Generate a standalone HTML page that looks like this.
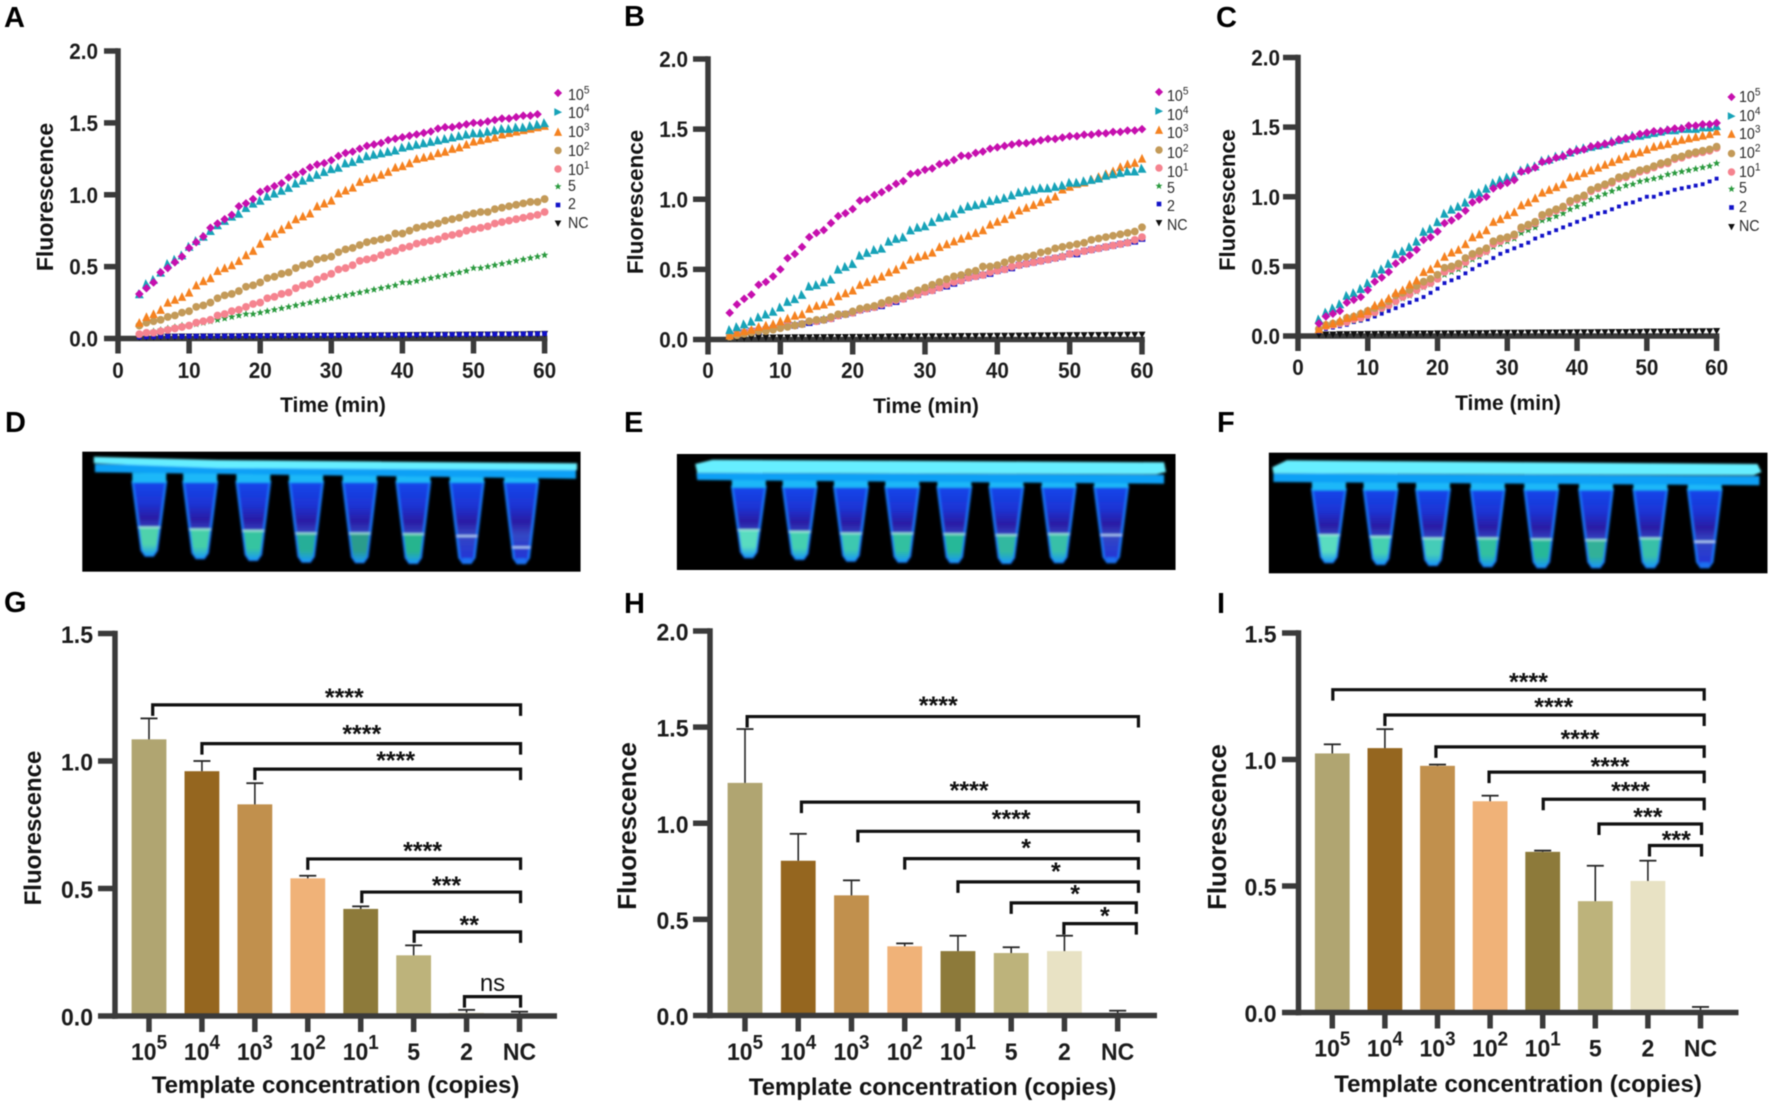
<!DOCTYPE html>
<html lang="en">
<head>
<meta charset="utf-8">
<title>Fluorescence detection panels A–I</title>
<style>
html,body{margin:0;padding:0;background:#fff;width:1772px;height:1106px;overflow:hidden}
svg{display:block;font-family:"Liberation Sans",Arial,sans-serif;filter:blur(.45px)}
.letter{font-size:29px;font-weight:700;fill:#000}
.title{font-weight:700;fill:#141414;text-anchor:middle}
</style>
</head>
<body>
<svg id="root" xmlns="http://www.w3.org/2000/svg" width="1772" height="1106" viewBox="0 0 1772 1106">
<defs>
<linearGradient id="tubeBody" x1="0" y1="0" x2="0" y2="1">
<stop offset="0" stop-color="#1448ec"/><stop offset=".3" stop-color="#1c34d4"/><stop offset=".5" stop-color="#2a1ca4"/><stop offset=".66" stop-color="#3448c4"/><stop offset="1" stop-color="#2030d8"/>
</linearGradient>
<filter id="soft" x="-5%" y="-5%" width="110%" height="110%"><feGaussianBlur stdDeviation="1.05"/></filter>
</defs>
<rect width="1772" height="1106" fill="#fff"/>

<g>
<text class="letter" x="4" y="27">A</text>
<text class="letter" x="624" y="26">B</text>
<text class="letter" x="1216" y="27">C</text>
<text class="letter" x="5" y="432">D</text>
<text class="letter" x="624" y="432">E</text>
<text class="letter" x="1217" y="432">F</text>
<text class="letter" x="4" y="612">G</text>
<text class="letter" x="624" y="613">H</text>
<text class="letter" x="1217" y="613">I</text>
</g>

<g>
<text class="title" font-size="23" transform="translate(53,197) rotate(-90)">Fluorescence</text>
<text class="title" font-size="22.4" transform="translate(643,202) rotate(-90)">Fluorescence</text>
<text class="title" font-size="22" transform="translate(1235,200) rotate(-90)">Fluorescence</text>
<text class="title" font-size="21" x="333" y="412">Time (min)</text>
<text class="title" font-size="21" x="926" y="413">Time (min)</text>
<text class="title" font-size="21" x="1508" y="410">Time (min)</text>
<text class="title" font-size="24" transform="translate(41,828) rotate(-90)">Fluorescence</text>
<text class="title" font-size="26" transform="translate(636,826) rotate(-90)">Fluorescence</text>
<text class="title" font-size="25.7" transform="translate(1226,827) rotate(-90)">Fluorescence</text>
<text class="title" font-size="24" x="335.5" y="1093">Template concentration (copies)</text>
<text class="title" font-size="24" x="932.5" y="1095">Template concentration (copies)</text>
<text class="title" font-size="24" x="1518" y="1092">Template concentration (copies)</text>
</g>
</svg>

<script>
/* ---------- shared labels ---------- */
const timeMinutes = [3,4,5,6,7,8,9,10,11,12,13,14,15,16,17,18,19,20,21,22,23,24,25,26,27,28,29,30,31,32,33,34,35,36,37,38,39,40,41,42,43,44,45,46,47,48,49,50,51,52,53,54,55,56,57,58,59,60];
const timeTicks = [0,10,20,30,40,50,60];
const curveValueTicks = ['0.0','0.5','1.0','1.5','2.0'];
const categoryBase = ['10','10','10','10','10','5','2','NC'];
const categoryExponent = ['5','4','3','2','1','','',''];

/* ---------- panel A curves ---------- */
const panelA_1e5 = [.31,.35,.39,.46,.49,.53,.57,.63, .67,.71,.77,.80,.83,.86,.92,.94,.97,1.02, 1.04,1.06,1.08,1.12,1.14,1.16,1.19,1.21,1.22,1.24, 1.27,1.29,1.30,1.32,1.34,1.35,1.36,1.38,1.39,1.40, 1.41,1.42,1.43,1.44,1.46,1.47,1.47,1.48,1.49,1.50, 1.50,1.51,1.52,1.53,1.53,1.54,1.55,1.55,1.56,null];
const panelA_1e4 = [.31,.38,.41,.46,.52,.55,.58,.64, .68,.71,.75,.79,.82,.85,.87,.91,.94,.96, .99,1.01,1.03,1.05,1.08,1.10,1.12,1.14,1.16,1.18, 1.19,1.22,1.23,1.25,1.27,1.28,1.29,1.30,1.31,1.33, 1.34,1.35,1.36,1.37,1.38,1.39,1.40,1.41,1.42,1.43, 1.43,1.44,1.45,1.46,1.46,1.47,1.47,1.48,1.49,1.50];
const panelA_1e3 = [.11,.15,.17,.20,.25,.27,.29,.32, .37,.40,.42,.47,.49,.51,.54,.58,.61,.66, .71,.73,.76,.79,.83,.85,.87,.92,.94,.96, 1.01,1.03,1.05,1.09,1.11,1.12,1.14,1.16,1.19,1.20, 1.22,1.25,1.26,1.27,1.29,1.30,1.32,1.33,1.35,1.37, 1.38,1.39,1.40,1.42,1.43,1.44,1.45,1.46,1.47,1.48];
const panelA_1e2 = [.09,.11,.12,.13,.15,.16,.18,.19, .22,.23,.25,.28,.30,.31,.33,.36,.37,.39, .42,.43,.45,.46,.49,.51,.52,.55,.56,.57, .60,.62,.63,.65,.67,.68,.69,.70,.73,.73, .75,.77,.78,.79,.80,.82,.83,.84,.86,.87, .88,.88,.90,.91,.92,.93,.94,.95,.95,.97];
const panelA_1e1 = [.03,.04,.04,.05,.06,.07,.08,.09, .11,.12,.13,.16,.17,.19,.20,.22,.24,.25, .28,.29,.31,.32,.35,.37,.38,.41,.43,.45, .48,.49,.51,.54,.55,.56,.58,.60,.61,.63, .64,.66,.67,.68,.69,.71,.72,.73,.75,.76, .77,.78,.80,.81,.82,.83,.84,.85,.86,.88];
const panelA_5 = [.03,.04,.05,.06,.07,.08,.09,.09, .10,.11,.12,.13,.14,.15,.16,.17,.17,.18, .19,.20,.21,.22,.23,.24,.25,.26,.27,.28, .29,.30,.31,.32,.33,.34,.35,.36,.37,.39, .39,.40,.41,.42,.43,.44,.45,.46,.47,.49, .49,.50,.51,.52,.53,.54,.55,.56,.57,.58];
const panelA_2 = [.01,.012,.012,.015,.015,.015,.015,.016, .016,.016,.017,.017,.017,.018,.018,.018,.018,.019, .019,.019,.02,.02,.02,.02,.021,.021,.021,.021, .022,.022,.022,.023,.023,.023,.024,.024,.024,.025, .025,.026,.026,.026,.027,.027,.028,.028,.028,.029, .029,.03,.03,.03,.031,.031,.032,.032,.033,.034];
const panelA_NC = [.008,.01,.01,.012,.012,.012,.013,.013, .013,.014,.014,.014,.015,.015,.015,.016,.016,.016, .016,.017,.017,.017,.018,.018,.018,.019,.019,.019, .02,.02,.02,.021,.021,.021,.022,.022,.022,.023, .023,.023,.024,.024,.025,.025,.025,.026,.026,.026, .027,.027,.028,.028,.028,.029,.029,.03,.03,.031];

/* ---------- panel B curves ---------- */
const panelB_1e5 = [.19,.25,.29,.32,.39,.41,.45,.50, .58,.61,.66,.73,.76,.78,.83,.88,.90,.93, .99,1.00,1.03,1.05,1.08,1.11,1.13,1.18,1.19,1.21, 1.22,1.25,1.26,1.28,1.31,1.31,1.33,1.34,1.36,1.37, 1.38,1.39,1.40,1.40,1.41,1.42,1.43,1.43,1.44,1.45, 1.45,1.46,1.46,1.47,1.47,1.48,1.48,1.49,1.49,1.50];
const panelB_1e4 = [.07,.09,.11,.13,.16,.18,.20,.23, .27,.29,.32,.38,.39,.41,.43,.50,.52,.54, .60,.62,.64,.65,.70,.72,.73,.78,.80,.81, .84,.87,.88,.90,.93,.95,.96,.97,.99,1.00, 1.01,1.03,1.05,1.06,1.07,1.08,1.08,1.09,1.10,1.12, 1.12,1.13,1.14,1.15,1.17,1.18,1.19,1.20,1.20,1.22];
const panelB_1e3 = [.03,.05,.06,.07,.09,.10,.11,.13, .15,.17,.18,.22,.24,.25,.27,.31,.33,.35, .39,.41,.43,.45,.48,.50,.53,.57,.59,.60, .62,.66,.68,.70,.72,.74,.76,.78,.82,.84, .86,.89,.92,.94,.96,.98,1.00,1.02,1.07,1.09, 1.11,1.12,1.14,1.16,1.18,1.20,1.23,1.25,1.26,1.29];
const panelB_1e2 = [.02,.03,.04,.05,.06,.06,.07,.08, .09,.10,.11,.13,.14,.14,.16,.18,.18,.20, .22,.23,.24,.26,.28,.29,.31,.33,.35,.37, .39,.41,.43,.45,.46,.48,.49,.52,.52,.53, .55,.57,.58,.59,.60,.62,.63,.65,.66,.67, .68,.69,.71,.72,.73,.74,.75,.76,.77,.80];
const panelB_1e1 = [.03,.04,.05,.06,.07,.07,.08,.09, .10,.10,.11,.13,.13,.14,.15,.17,.18,.19, .21,.22,.23,.25,.26,.28,.29,.31,.32,.34, .35,.37,.39,.41,.42,.44,.45,.46,.48,.49, .50,.52,.53,.54,.55,.56,.57,.58,.59,.61, .62,.63,.64,.65,.66,.67,.68,.69,.71,.73];
const panelB_5 = [.03,.04,.05,.06,.07,.08,.08,.09, .10,.11,.11,.13,.13,.15,.15,.17,.18,.19, .21,.22,.23,.25,.26,.28,.29,.31,.33,.34, .35,.37,.39,.41,.42,.44,.45,.47,.48,.49, .50,.52,.53,.54,.55,.56,.57,.58,.60,.61, .62,.63,.64,.65,.66,.67,.68,.70,.71,.73];
const panelB_2 = [.03,.04,.05,.06,.06,.07,.08,.09, .10,.10,.11,.12,.13,.14,.15,.17,.18,.19, .21,.22,.23,.24,.26,.27,.29,.31,.32,.34, .35,.37,.38,.40,.42,.44,.45,.46,.47,.49, .50,.51,.53,.54,.55,.56,.57,.58,.59,.61, .61,.63,.64,.65,.66,.67,.68,.69,.70,.72];
const panelB_NC = [.008,.01,.01,.012,.012,.013,.013,.014, .014,.015,.015,.015,.016,.016,.017,.017,.017,.018, .018,.018,.019,.019,.02,.02,.02,.021,.021,.022, .022,.022,.023,.023,.024,.024,.024,.025,.025,.026, .026,.026,.027,.027,.028,.028,.028,.029,.029,.03, .03,.03,.031,.031,.032,.032,.032,.033,.033,.034];

/* ---------- panel C curves ---------- */
const panelC_1e5 = [.09,.14,.16,.18,.24,.26,.28,.33, .39,.42,.46,.52,.55,.58,.62,.69,.71,.75, .81,.83,.86,.90,.96,.98,1.00,1.06,1.08,1.10, 1.12,1.18,1.19,1.21,1.25,1.26,1.28,1.29,1.32,1.33, 1.34,1.36,1.37,1.38,1.39,1.41,1.42,1.43,1.45,1.46, 1.47,1.47,1.48,1.49,1.49,1.51,1.51,1.52,1.52,1.53];
const panelC_1e4 = [.12,.17,.20,.23,.29,.31,.34,.38, .45,.48,.52,.59,.61,.64,.68,.75,.77,.82, .88,.91,.93,.96,1.02,1.03,1.06,1.10,1.12,1.14, 1.15,1.19,1.21,1.22,1.26,1.27,1.29,1.30,1.32,1.34, 1.35,1.36,1.37,1.38,1.40,1.41,1.42,1.44,1.44,1.45, 1.46,1.47,1.48,1.48,1.49,1.49,1.49,1.50,1.50,1.51];
const panelC_1e3 = [.05,.08,.09,.11,.13,.14,.16,.18, .22,.24,.27,.31,.33,.37,.40,.46,.48,.52, .57,.60,.62,.66,.71,.73,.76,.82,.84,.87, .89,.94,.96,.99,1.03,1.05,1.07,1.09,1.14,1.15, 1.17,1.19,1.21,1.23,1.25,1.27,1.29,1.31,1.32,1.34, 1.36,1.37,1.38,1.40,1.41,1.42,1.43,1.44,1.45,1.47];
const panelC_1e2 = [.05,.08,.09,.10,.13,.14,.16,.18, .20,.22,.25,.29,.31,.33,.36,.39,.41,.44, .49,.50,.52,.56,.59,.61,.63,.68,.70,.71, .73,.78,.80,.82,.87,.89,.91,.93,.97,.99, 1.01,1.05,1.07,1.09,1.11,1.14,1.15,1.17,1.19,1.20, 1.22,1.24,1.25,1.28,1.29,1.31,1.32,1.33,1.34,1.36];
const panelC_1e1 = [.05,.07,.08,.09,.10,.12,.13,.15, .17,.20,.22,.25,.28,.30,.33,.36,.38,.41, .46,.48,.50,.53,.57,.59,.61,.66,.68,.70, .72,.77,.79,.81,.86,.88,.90,.92,.96,.98, 1.00,1.04,1.06,1.08,1.10,1.13,1.14,1.16,1.18,1.19, 1.21,1.23,1.24,1.27,1.28,1.30,1.31,1.32,1.33,1.35];
const panelC_5 = [.05,.07,.08,.09,.10,.11,.12,.14, .16,.19,.21,.24,.27,.29,.32,.35,.37,.41, .44,.46,.48,.51,.55,.57,.60,.64,.66,.68, .70,.74,.76,.78,.83,.84,.86,.88,.91,.93, .95,.98,1.00,1.02,1.04,1.06,1.08,1.09,1.11,1.12, 1.13,1.14,1.16,1.17,1.18,1.19,1.20,1.21,1.22,1.24];
const panelC_2 = [.03,.05,.06,.07,.08,.10,.11,.12, .14,.16,.18,.20,.22,.24,.26,.28,.31,.34, .38,.40,.42,.45,.48,.51,.53,.56,.59,.61, .63,.65,.67,.70,.72,.74,.76,.78,.80,.82, .84,.86,.88,.89,.91,.93,.95,.96,.98,1.00, 1.00,1.02,1.03,1.05,1.06,1.07,1.08,1.09,1.11,1.13];
const panelC_NC = [.008,.01,.01,.012,.012,.013,.013,.014, .014,.015,.015,.015,.016,.016,.017,.017,.017,.018, .018,.018,.019,.019,.02,.02,.02,.021,.021,.022, .022,.022,.023,.023,.024,.024,.024,.025,.025,.026, .026,.026,.027,.027,.028,.028,.028,.029,.029,.03, .03,.03,.031,.031,.032,.032,.032,.033,.033,.035];

/* ---------- bar charts ---------- */
const barValuesG = [1.085,.96,.83,.54,.42,.238,.013,.01];
const barErrorsG = [.082,.04,.083,.01,.01,.039,.011,.007];
const barTicksG = ['0.0','0.5','1.0','1.5'];
const bracketFromG = [.07,1,2,3,4.02,5.01,5.96];
const bracketToG = [7.02,7.02,7.02,7.02,7.02,7.02,7.02];
const bracketLevelG = [1.22,1.068,.968,.616,.486,.33,.076];
const bracketTextG = ['****','****','****','****','***','**','ns'];
const bracketTextCatG = [3.69,4.02,4.66,5.17,5.62,6.05,6.49];
const bracketTextLevelG = [1.265,1.122,1.017,.663,.527,.373,.125];

const barValuesH = [1.21,.805,.625,.36,.335,.325,.335,.01];
const barErrorsH = [.28,.14,.078,.015,.08,.03,.08,.015];
const barTicksH = ['0.0','0.5','1.0','1.5','2.0'];
const bracketFromH = [.04,1.06,2.12,3,4,5,5.99];
const bracketToH = [7.39,7.39,7.39,7.39,7.39,7.35,7.35];
const bracketLevelH = [1.555,1.11,.958,.816,.695,.586,.478];
const bracketTextH = ['****','****','****','*','*','*','*'];
const bracketTextCatH = [3.63,4.21,5,5.28,5.84,6.2,6.76];
const bracketTextLevelH = [1.634,1.192,1.042,.891,.77,.652,.539];

const barValuesI = [1.024,1.045,.975,.835,.635,.44,.52,.01];
const barErrorsI = [.036,.075,.005,.022,.005,.14,.08,.012];
const barTicksI = ['0.0','0.5','1.0','1.5'];
const bracketFromI = [.01,1,1.97,2.98,4.01,5.07,6.03];
const bracketToI = [7.07,7.07,7.07,7.07,7.07,7.02,7.02];
const bracketLevelI = [1.276,1.176,1.05,.95,.843,.745,.66];
const bracketTextI = ['****','****','****','****','****','***','***'];
const bracketTextCatI = [3.73,4.21,4.71,5.28,5.67,6,6.54];
const bracketTextLevelI = [1.322,1.224,1.096,.989,.892,.789,.697];

const barColors = ['#b0a571','#95661f','#c1904d','#f0b278','#8d7a3a','#bdb37b','#e8e2c4','#f4efd8'];
const seriesNames = ['1e5','1e4','1e3','1e2','1e1','5','2','nc'];
const seriesColors = ['#c60fae','#17a3b8','#f58220','#c39a58','#f5838f','#2a9a3e','#1212c8','#111111'];
const seriesShapes = ['diamond','right','up','circle','circle','star','square','down'];

const NS = 'http://www.w3.org/2000/svg';
const root = document.getElementById('root');
const AXIS = '#3a3a3a';

function makeGroup(parent, name) {
  const el = document.createElementNS(NS, 'g');
  
  
  parent.appendChild(el);
  return el;
}
function drawRect(parent, name, x, y, w, h, fill) {
  const el = document.createElementNS(NS, 'rect');
  
  
  el.setAttribute('x', x); el.setAttribute('y', y);
  el.setAttribute('width', w); el.setAttribute('height', h);
  el.setAttribute('fill', fill);
  parent.appendChild(el);
  return el;
}
function drawLabel(parent, name, x, y, base, exp, o) {
  const el = document.createElementNS(NS, 'text');
  
  
  if (o.sx) {
    el.setAttribute('transform', 'translate(' + x + ',' + y + ') scale(' + o.sx + ',1)');
  } else {
    el.setAttribute('x', x); el.setAttribute('y', y);
  }
  el.setAttribute('font-size', o.size);
  el.setAttribute('font-weight', o.weight || 700);
  el.setAttribute('fill', o.fill || '#1c1c1c');
  el.setAttribute('text-anchor', o.anchor || 'middle');
  el.appendChild(document.createTextNode(base));
  if (exp) {
    const sup = document.createElementNS(NS, 'tspan');
    sup.setAttribute('font-size', o.expSize);
    sup.setAttribute('dy', -o.expRise);
    sup.textContent = exp;
    el.appendChild(sup);
  }
  parent.appendChild(el);
  return el;
}
function shapePoints(shape, x, y, s) {
  const f = pts => pts.map(p => (x + p[0] * s).toFixed(2) + ',' + (y + p[1] * s).toFixed(2)).join(' ');
  if (shape === 'diamond') return f([[0,-1.05],[1.05,0],[0,1.05],[-1.05,0]]);
  if (shape === 'right') return f([[-.95,-1],[1.05,.05],[-.95,1]]);
  if (shape === 'lean') return f([[-1,1],[-.2,-1.1],[1.05,1]]);
  if (shape === 'up') return f([[-1,.95],[0,-1.1],[1,.95]]);
  if (shape === 'down') return f([[-.95,-.85],[.95,-.85],[0,.95]]);
  if (shape === 'square') return f([[-.72,-.72],[.72,-.72],[.72,.72],[-.72,.72]]);
  if (shape === 'star') {
    const pts = [];
    for (let i = 0; i < 10; i++) {
      const r = i % 2 ? .5 : 1.15;
      const a = -Math.PI / 2 + i * Math.PI / 5;
      pts.push([r * Math.cos(a), r * Math.sin(a)]);
    }
    return f(pts);
  }
  return '';
}
function drawMarker(parent, name, shape, x, y, color, s) {
  let el;
  if (shape === 'circle') {
    el = document.createElementNS(NS, 'circle');
    el.setAttribute('cx', x); el.setAttribute('cy', y); el.setAttribute('r', s);
  } else {
    el = document.createElementNS(NS, 'polygon');
    el.setAttribute('points', shapePoints(shape, x, y, s));
  }
  
  
  el.setAttribute('fill', color);
  parent.appendChild(el);
}

const markerSize = {diamond:4.1, right:4.1, lean:4.3, up:4.3, circle:3.9, star:3.4, square:3.4, down:3.7};

/* ---------- scatter panels ---------- */
function drawCurvePanel(cfg) {
  const g = makeGroup(root, 'chart-' + cfg.id);
  const xScale = t => cfg.x0 + (t / 60) * (cfg.x60 - cfg.x0);
  const yScale = v => cfg.y0 - (v / 2) * (cfg.y0 - cfg.y2);
  const axis = makeGroup(g, 'axes-' + cfg.id);
  drawRect(axis, 'y-axis-line', cfg.x0 - 2.75, cfg.y2 - 2.75, 5.5, cfg.y0 - cfg.y2 + 5.5, AXIS);
  drawRect(axis, 'x-axis-line', cfg.x0 - 2.75, cfg.y0 - 2.75, cfg.x60 - cfg.x0 + 5.5, 5.5, AXIS);
  curveValueTicks.forEach(lbl => {
    const y = yScale(parseFloat(lbl));
    drawRect(axis, 'y-tick', cfg.tickLeft, y - 2.75, cfg.x0 - cfg.tickLeft, 5.5, AXIS);
    drawLabel(axis, 'y-tick-label', cfg.labelRight, y + 8, lbl, '', {size:22, sx:.94, anchor:'end'});
  });
  timeTicks.forEach(t => {
    const x = xScale(t);
    drawRect(axis, 'x-tick', x - 2.75, cfg.y0, 5.5, 15, AXIS);
    drawLabel(axis, 'x-tick-label', x, cfg.xLabelY, String(t), '', {size:22, sx:.94});
  });
  for (let s = cfg.series.length - 1; s >= 0; s--) {
    const sg = makeGroup(g, 'series-' + seriesNames[s] + '-' + cfg.id);
    const shape = seriesShapes[s] === 'right' ? 'lean' : seriesShapes[s];
    const size = shape === 'square' ? cfg.squareSize : markerSize[shape];
    cfg.series[s].forEach((v, i) => {
      if (v === null) return;
      drawMarker(sg, 'point', shape, xScale(timeMinutes[i]), yScale(v), seriesColors[s], size);
    });
  }
  const leg = makeGroup(g, 'legend-' + cfg.id);
  seriesNames.forEach((n, i) => {
    const e = makeGroup(leg, 'legend-entry-' + n);
    drawMarker(e, 'legend-marker', seriesShapes[i], cfg.legendMarkerX, cfg.legendMarkerY[i], seriesColors[i], markerSize[seriesShapes[i]] * .95);
    drawLabel(e, 'legend-label', cfg.legendTextX, cfg.legendTextY[i], categoryBase[i], categoryExponent[i],
      {size:15.5, weight:400, fill:'#2a2a2a', anchor:'start', sx:.92, expSize:11, expRise:6.5});
  });
}

drawCurvePanel({id:'a', x0:118, x60:544.6, y2:51, y0:338.5, tickLeft:104, labelRight:98, xLabelY:378, squareSize:3.4,
  series:[panelA_1e5,panelA_1e4,panelA_1e3,panelA_1e2,panelA_1e1,panelA_5,panelA_2,panelA_NC],
  legendMarkerX:558, legendMarkerY:[93,112,132,150.5,169,186.5,205,223.5],
  legendTextX:568, legendTextY:[100,118,137,156,175,191,209,228]});
drawCurvePanel({id:'b', x0:708, x60:1142, y2:59, y0:339.5, tickLeft:693, labelRight:688, xLabelY:378, squareSize:4.6,
  series:[panelB_1e5,panelB_1e4,panelB_1e3,panelB_1e2,panelB_1e1,panelB_5,panelB_2,panelB_NC],
  legendMarkerX:1159, legendMarkerY:[92,111,130,150,168,186,204,223],
  legendTextX:1167, legendTextY:[101,120,138,158,177,193,211,230]});
drawCurvePanel({id:'c', x0:1298, x60:1716.6, y2:57.5, y0:336, tickLeft:1283, labelRight:1280, xLabelY:375, squareSize:2.7,
  series:[panelC_1e5,panelC_1e4,panelC_1e3,panelC_1e2,panelC_1e1,panelC_5,panelC_2,panelC_NC],
  legendMarkerX:1731.5, legendMarkerY:[97,116,134,153.5,172,189,207.5,227],
  legendTextX:1739, legendTextY:[102,121,139,158,177,193,212,231]});

/* ---------- bar panels ---------- */
function drawBarPanel(cfg) {
  const g = makeGroup(root, 'chart-' + cfg.id);
  const yScale = v => cfg.y0 - (v / cfg.yMax) * (cfg.y0 - cfg.yTop);
  const xScale = c => cfg.cat0 + c * cfg.step;
  const barsG = makeGroup(g, 'bars-' + cfg.id);
  cfg.values.forEach((v, i) => {
    const x = xScale(i);
    drawRect(barsG, 'bar-' + seriesNames[i], x - 17.4, yScale(v), 34.8, cfg.y0 - yScale(v), barColors[i]);
    const topY = yScale(v + cfg.errors[i]);
    drawRect(barsG, 'error-stem-' + seriesNames[i], x - .8, topY, 1.6, yScale(v) - topY, '#262626');
    drawRect(barsG, 'error-cap-' + seriesNames[i], x - 8.5, topY - .9, 17, 1.8, '#262626');
  });
  const axis = makeGroup(g, 'axes-' + cfg.id);
  drawRect(axis, 'y-axis-line', cfg.axisX - 2.75, cfg.yTop - 2.75, 5.5, cfg.y0 - cfg.yTop + 5.5, AXIS);
  drawRect(axis, 'x-axis-line', cfg.axisX - 2.75, cfg.y0 - 2.75, cfg.axisEnd - cfg.axisX + 2.75, 5.5, AXIS);
  cfg.ticks.forEach(lbl => {
    const y = yScale(parseFloat(lbl));
    drawRect(axis, 'y-tick', cfg.tickLeft, y - 2.75, cfg.axisX - cfg.tickLeft, 5.5, AXIS);
    drawLabel(axis, 'y-tick-label', cfg.labelRight, y + 9.5, lbl, '', {size:24.5, sx:.94, anchor:'end'});
  });
  categoryBase.forEach((b, i) => {
    const x = xScale(i);
    drawRect(axis, 'x-tick', x - 2.75, cfg.y0, 5.5, 16, AXIS);
    drawLabel(axis, 'x-tick-label', x, cfg.catLabelY, b, categoryExponent[i], {size:24.5, sx:.94, expSize:20, expRise:11});
  });
  const br = makeGroup(g, 'significance-brackets-' + cfg.id);
  cfg.brFrom.forEach((f, i) => {
    const y = yScale(cfg.brLevel[i]);
    const el = document.createElementNS(NS, 'polyline');
    
    
    const xa = xScale(f), xb = xScale(cfg.brTo[i]);
    el.setAttribute('points', xa + ',' + (y + 11) + ' ' + xa + ',' + y + ' ' + xb + ',' + y + ' ' + xb + ',' + (y + 11));
    el.setAttribute('fill', 'none');
    el.setAttribute('stroke', '#111');
    el.setAttribute('stroke-width', 3.2);
    br.appendChild(el);
    const isNs = cfg.brText[i] === 'ns';
    drawLabel(br, 'significance-label', xScale(cfg.brTextCat[i]), yScale(cfg.brTextLevel[i]) + (isNs ? 7 : 12.5), cfg.brText[i], '',
      {size:isNs ? 24 : 25, weight:isNs ? 400 : 700, fill:'#111'});
  });
}

drawBarPanel({id:'g', values:barValuesG, errors:barErrorsG, ticks:barTicksG, yMax:1.5, yTop:633.5, y0:1016,
  axisX:115, axisEnd:557, cat0:149, step:52.93, tickLeft:98, labelRight:93, catLabelY:1060,
  brFrom:bracketFromG, brTo:bracketToG, brLevel:bracketLevelG, brText:bracketTextG, brTextCat:bracketTextCatG, brTextLevel:bracketTextLevelG});
drawBarPanel({id:'h', values:barValuesH, errors:barErrorsH, ticks:barTicksH, yMax:2, yTop:631, y0:1015.5,
  axisX:710, axisEnd:1157, cat0:745, step:53.24, tickLeft:693, labelRight:688.5, catLabelY:1060,
  brFrom:bracketFromH, brTo:bracketToH, brLevel:bracketLevelH, brText:bracketTextH, brTextCat:bracketTextCatH, brTextLevel:bracketTextLevelH});
drawBarPanel({id:'i', values:barValuesI, errors:barErrorsI, ticks:barTicksI, yMax:1.5, yTop:633, y0:1012.5,
  axisX:1298.5, axisEnd:1738.5, cat0:1332.3, step:52.6, tickLeft:1282, labelRight:1276.5, catLabelY:1056.5,
  brFrom:bracketFromI, brTo:bracketToI, brLevel:bracketLevelI, brText:bracketTextI, brTextCat:bracketTextCatI, brTextLevel:bracketTextLevelI});

/* ---------- tube photographs ---------- */
function drawPoly(parent, name, pts, fill, opacity) {
  const el = document.createElementNS(NS, 'polygon');
  
  
  el.setAttribute('points', pts.map(p => p[0].toFixed(1) + ',' + p[1].toFixed(1)).join(' '));
  el.setAttribute('fill', fill);
  if (opacity !== undefined) el.setAttribute('opacity', opacity);
  parent.appendChild(el);
}
let liquidGradientCount = 0;
function liquidGradient(color) {
  const id = 'liquid' + (liquidGradientCount++);
  const grad = document.createElementNS(NS, 'linearGradient');
  grad.setAttribute('id', id);
  grad.setAttribute('x1', '0'); grad.setAttribute('y1', '0');
  grad.setAttribute('x2', '0'); grad.setAttribute('y2', '1');
  [[0, color], [.6, color], [1, '#1a98f6']].forEach(s => {
    const stop = document.createElementNS(NS, 'stop');
    stop.setAttribute('offset', s[0]);
    stop.setAttribute('stop-color', s[1]);
    grad.appendChild(stop);
  });
  root.querySelector('defs').appendChild(grad);
  return 'url(#' + id + ')';
}
function drawPhoto(cfg) {
  const mx = z => cfg.off + z / 2.613;
  const my = z => 420 + z / 3;
  const g = makeGroup(root, 'tube-photo-' + cfg.id);
  drawRect(g, 'photo-background', mx(cfg.box[0]), my(cfg.box[1]), (cfg.box[2] - cfg.box[0]) / 2.613, (cfg.box[3] - cfg.box[1]) / 3, '#000');
  const soft = makeGroup(g, 'photo-contents');
  soft.setAttribute('filter', 'url(#soft)');
  cfg.cx.forEach((cxz, i) => {
    const t = makeGroup(soft, 'tube-' + (i + 1));
    const cx = mx(cxz), top = my(cfg.top), bot = my(cfg.bot[i]), lev = my(cfg.level[i]);
    const hw = y => 18 + (8 - 18) * (y - top) / (bot - top);
    const shape = inset => [[cx - 18 + inset, top], [cx + 18 - inset, top], [cx + hw(bot - 6) - inset, bot - 6], [cx + 4.5 - inset * .5, bot - inset * .5], [cx - 4.5 + inset * .5, bot - inset * .5], [cx - hw(bot - 6) + inset, bot - 6]];
    drawPoly(t, 'tube-wall', shape(0), '#1874fa');
    drawPoly(t, 'tube-body', shape(2.5), 'url(#tubeBody)');
    if (cfg.liquid[i]) {
      drawPoly(t, 'tube-liquid', [[cx - hw(lev) + 2, lev], [cx + hw(lev) - 2, lev], [cx + hw(bot - 6) - 2, bot - 6], [cx + 3.5, bot - 1], [cx - 3.5, bot - 1], [cx - hw(bot - 6) + 2, bot - 6]], liquidGradient(cfg.liquid[i]));
    } else {
      drawPoly(t, 'tube-tip', [[cx - 5, bot - 6], [cx + 5, bot - 6], [cx + 3.5, bot - 1], [cx - 3.5, bot - 1]], '#1c80f8', .8);
    }
    drawRect(t, 'tube-meniscus', cx - hw(lev) + 1, lev - .7, 2 * hw(lev) - 2, 1.5, cfg.liquid[i] ? '#a8f0e0' : '#c8e8ff');
    drawRect(t, 'tube-cap', cx - 17, top - 8, 34, 10, '#1cb8f8');
  });
  drawPoly(soft, 'strip-lower', cfg.stripLow.map(p => [mx(p[0]), my(p[1])]), '#10a0f6');
  drawPoly(soft, 'strip-upper', cfg.stripHigh.map(p => [mx(p[0]), my(p[1])]), '#66eeff');
}
drawPhoto({id:'d', off:0, box:[215,95,1517,455], top:182,
  cx:[390,523,662,800,940,1080,1220,1362], bot:[410,418,423,428,430,432,432,433], level:[322,328,332,340,340,342,348,382],
  liquid:['#4fd2ac','#45cfa8','#35c4a0','#28ae98','#2a9c8c','#28b48e',null,null],
  stripHigh:[[245,110],[570,120],[1508,130],[1508,150],[570,144],[245,130]],
  stripLow:[[248,132],[1505,150],[1505,176],[248,157]]});
drawPhoto({id:'e', off:590, box:[227,102,1530,450], top:197,
  cx:[415,548,682,816,952,1088,1225,1362], bot:[415,420,425,428,430,432,430,430], level:[330,335,340,340,342,345,342,345],
  liquid:['#5adcc0','#45d0b0','#3cc8b0','#30c0a0','#28b898','#30b8a0','#38c0a8',null],
  stripHigh:[[275,132],[320,119],[1500,127],[1505,156],[1480,163],[280,158]],
  stripLow:[[278,158],[1500,164],[1500,191],[280,180]]});
drawPhoto({id:'f', off:1172, box:[253,98,1556,460], top:205,
  cx:[410,545,682,825,965,1108,1250,1392], bot:[430,435,438,442,445,445,445,445], level:[345,350,355,355,358,360,355,365],
  liquid:['#5adcc0','#45d0b0','#44ccb8','#30c0a0','#28b898','#30b098','#38c0a8',null],
  stripHigh:[[262,142],[300,121],[1530,132],[1540,156],[1520,166],[265,160]],
  stripLow:[[265,160],[1535,168],[1535,196],[265,186]]});
</script>
</body>
</html>
